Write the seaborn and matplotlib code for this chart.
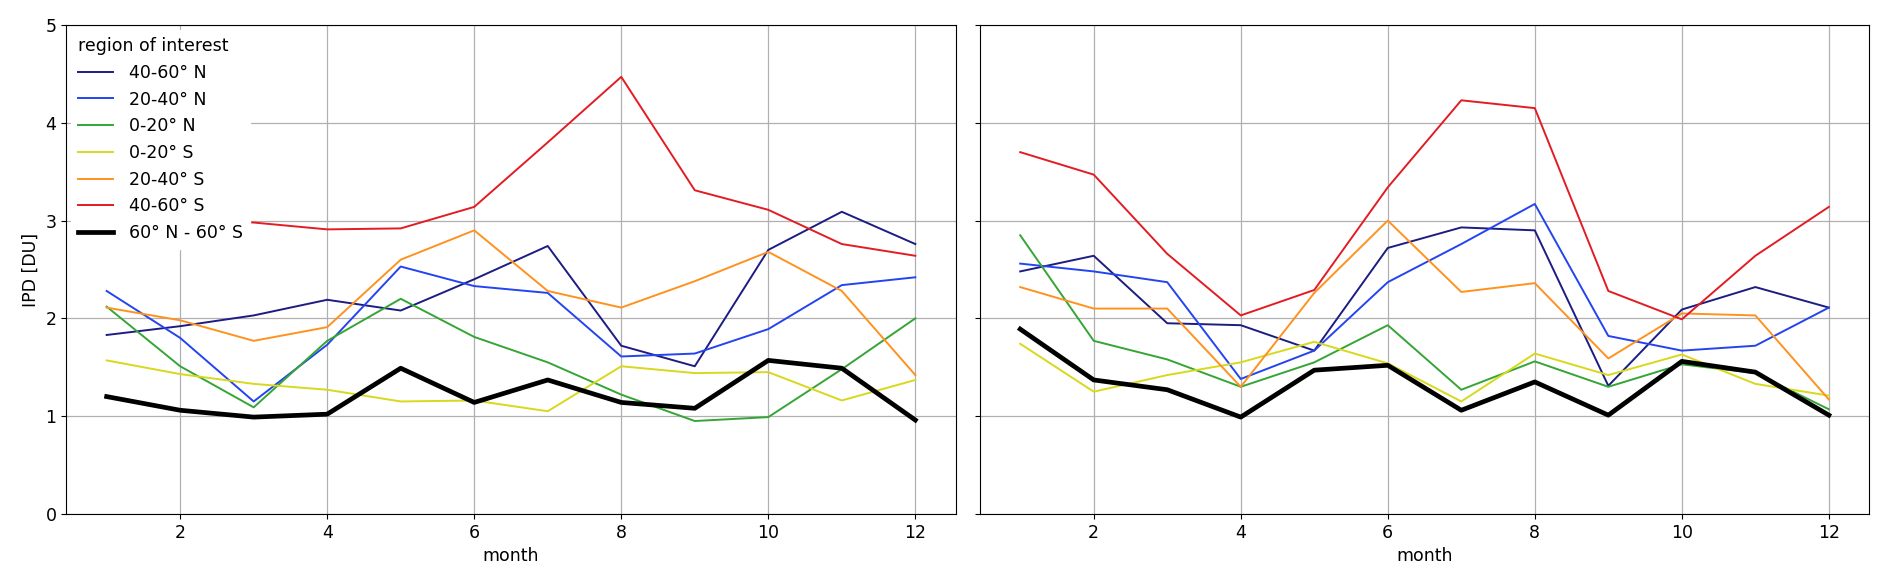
import numpy as np
import pandas as pd
import seaborn as sns
import matplotlib.pyplot as plt

months = list(range(1, 13))
regions = ['40-60° N', '20-40° N', '0-20° N', '0-20° S', '20-40° S', '40-60° S', '60° N - 60° S']
colors = ['#1c1c82', '#2444f0', '#35a535', '#d8d81c', '#ff921f', '#e31c23', 'black']
widths = [1.4, 1.4, 1.4, 1.4, 1.4, 1.4, 3.4]

# left panel
left_n4060 = [1.83, 1.92, 2.03, 2.19, 2.08, 2.40, 2.74, 1.72, 1.51, 2.70, 3.09, 2.76]
left_n2040 = [2.28, 1.80, 1.15, 1.73, 2.53, 2.33, 2.26, 1.61, 1.64, 1.89, 2.34, 2.42]
left_n0020 = [2.12, 1.51, 1.09, 1.77, 2.20, 1.81, 1.55, 1.22, 0.95, 0.99, 1.48, 2.00]
left_s0020 = [1.57, 1.43, 1.33, 1.27, 1.15, 1.16, 1.05, 1.51, 1.44, 1.45, 1.16, 1.37]
left_s2040 = [2.11, 1.98, 1.77, 1.91, 2.60, 2.90, 2.28, 2.11, 2.38, 2.68, 2.28, 1.42]
left_s4060 = [3.05, 3.00, 2.98, 2.91, 2.92, 3.14, 3.80, 4.47, 3.31, 3.11, 2.76, 2.64]
left_all = [1.20, 1.06, 0.99, 1.02, 1.49, 1.14, 1.37, 1.14, 1.08, 1.57, 1.49, 0.96]

# right panel
right_n4060 = [2.48, 2.64, 1.95, 1.93, 1.67, 2.72, 2.93, 2.90, 1.31, 2.09, 2.32, 2.11]
right_n2040 = [2.56, 2.48, 2.37, 1.38, 1.67, 2.37, 2.76, 3.17, 1.82, 1.67, 1.72, 2.11]
right_n0020 = [2.85, 1.77, 1.58, 1.30, 1.55, 1.93, 1.27, 1.56, 1.30, 1.53, 1.44, 1.07]
right_s0020 = [1.74, 1.25, 1.42, 1.55, 1.76, 1.54, 1.15, 1.64, 1.42, 1.63, 1.33, 1.21]
right_s2040 = [2.32, 2.10, 2.10, 1.30, 2.26, 3.00, 2.27, 2.36, 1.59, 2.05, 2.03, 1.17]
right_s4060 = [3.70, 3.47, 2.66, 2.03, 2.29, 3.34, 4.23, 4.15, 2.28, 1.99, 2.64, 3.14]
right_all = [1.89, 1.37, 1.27, 0.99, 1.47, 1.52, 1.06, 1.35, 1.01, 1.56, 1.45, 1.01]


def make_df(series):
    rows = []
    for name, vals in zip(regions, series):
        for m, v in zip(months, vals):
            rows.append({'month': m, 'IPD [DU]': v, 'region of interest': name})
    return pd.DataFrame(rows)


df_left = make_df([left_n4060, left_n2040, left_n0020, left_s0020, left_s2040, left_s4060, left_all])
df_right = make_df([right_n4060, right_n2040, right_n0020, right_s0020, right_s2040, right_s4060, right_all])

palette = dict(zip(regions, colors))
sizes = dict(zip(regions, widths))
fs = 12.5

fig, axes = plt.subplots(1, 2, figsize=(18.92, 5.82), dpi=100, sharey=True)
plt.subplots_adjust(left=0.035, right=0.988, top=0.957, bottom=0.117, wspace=0.027)

for ax, df, leg in zip(axes, [df_left, df_right], [True, False]):
    sns.lineplot(data=df, x='month', y='IPD [DU]', hue='region of interest',
                 size='region of interest', palette=palette, sizes=sizes,
                 hue_order=regions, size_order=regions, ax=ax, legend=leg)
    ax.grid(True, color='#b0b0b0', linewidth=0.9)
    ax.set_axisbelow(True)
    ax.set_ylim(0, 5)
    ax.set_xlabel('month', fontsize=fs)
    ax.tick_params(labelsize=fs)

axes[0].set_ylabel('IPD [DU]', fontsize=fs)
axes[1].set_ylabel('')
sns.move_legend(axes[0], 'upper left', title='region of interest', fontsize=fs,
                title_fontsize=fs, frameon=True, edgecolor='white', framealpha=1,
                alignment='left', borderaxespad=0.3, handletextpad=0.9)

fig.savefig('out.png', dpi=100)
